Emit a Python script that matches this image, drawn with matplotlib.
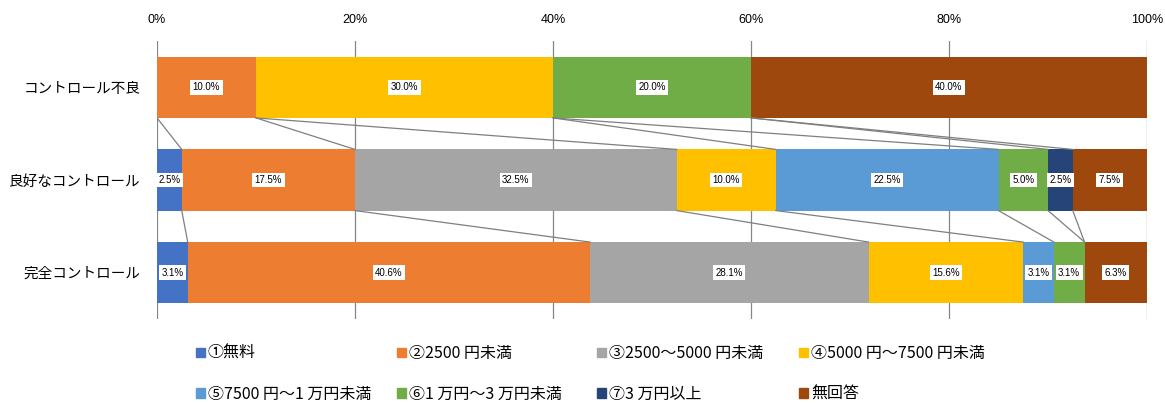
import numpy as np
import matplotlib
matplotlib.use('Agg')
import matplotlib.pyplot as plt
from matplotlib.patches import Patch

plt.rcParams['font.family'] = ['Noto Sans CJK JP', 'DejaVu Sans']

# data (percent)
categories = ['コントロール不良', '良好なコントロール', '完全コントロール']
series_names = ['①無料', '②2500 円未満', '③2500～5000 円未満', '④5000 円～7500 円未満',
                '⑤7500 円～1 万円未満', '⑥1 万円～3 万円未満', '⑦3 万円以上', '無回答']
colors = ['#4472C4', '#ED7D31', '#A5A5A5', '#FFC000',
          '#5B9BD5', '#70AD47', '#264478', '#9E480E']
values = np.array([
    [0.0, 10.0, 0.0, 30.0, 0.0, 20.0, 0.0, 40.0],
    [2.5, 17.5, 32.5, 10.0, 22.5, 5.0, 2.5, 7.5],
    [3.1, 40.6, 28.1, 15.6, 3.1, 3.1, 0.0, 6.3],
])

# 100% stacked
share = values / values.sum(axis=1, keepdims=True) * 100
cum = np.cumsum(share, axis=1)
left = cum - share
ypos = np.arange(len(categories))
bh = 0.66

fig = plt.figure(figsize=(11.65, 4.04), dpi=100)
ax = fig.add_axes([157 / 1165, 1 - 319 / 404, 990 / 1165, 278 / 404])

for j in range(len(series_names)):
    ax.barh(ypos, share[:, j], left=left[:, j], height=bh, color=colors[j],
            label=series_names[j], zorder=2)
    for i in range(len(categories)):
        if values[i, j] > 0:
            ax.text(left[i, j] + share[i, j] / 2, ypos[i], f'{values[i, j]:.1f}%',
                    ha='center', va='center', fontsize=7, family='Liberation Sans',
                    bbox=dict(boxstyle='square,pad=0.25', fc='white', ec='none'),
                    zorder=4)

# series lines between bars
for i in range(len(categories) - 1):
    for j in range(len(series_names) - 1):
        ax.plot([cum[i, j], cum[i + 1, j]], [ypos[i] + bh / 2, ypos[i + 1] - bh / 2],
                color='#7F7F7F', lw=0.9, zorder=3)

ax.set_xlim(0, 100)
ax.set_ylim(2.5, -0.5)
ax.set_xticks(np.arange(0, 101, 20))
ax.set_xticklabels([f'{t}%' for t in range(0, 101, 20)], family='Liberation Sans', fontsize=9)
ax.xaxis.tick_top()
ax.set_yticks(ypos)
ax.set_yticklabels(categories, fontsize=10.5)
ax.tick_params(axis='x', length=0, pad=11)
ax.tick_params(axis='y', length=0, pad=12)
ax.grid(axis='x', color='#868686', lw=0.9, zorder=0)
for s in ax.spines.values():
    s.set_visible(False)

# legend, one per column
handles = [Patch(color=c) for c in colors]
col_x = [196 / 1165, 397 / 1165, 597 / 1165, 799 / 1165]
for k in range(4):
    lg = fig.legend(handles=[handles[k], handles[k + 4]],
                    labels=[series_names[k], series_names[k + 4]],
                    loc='upper left', bbox_to_anchor=(col_x[k], 1 - 345 / 404),
                    frameon=False, fontsize=11.5, handlelength=0.55, handleheight=0.55,
                    handletextpad=0.2, labelspacing=1.5, borderaxespad=0, borderpad=0)

fig.savefig('out.png', dpi=100)
